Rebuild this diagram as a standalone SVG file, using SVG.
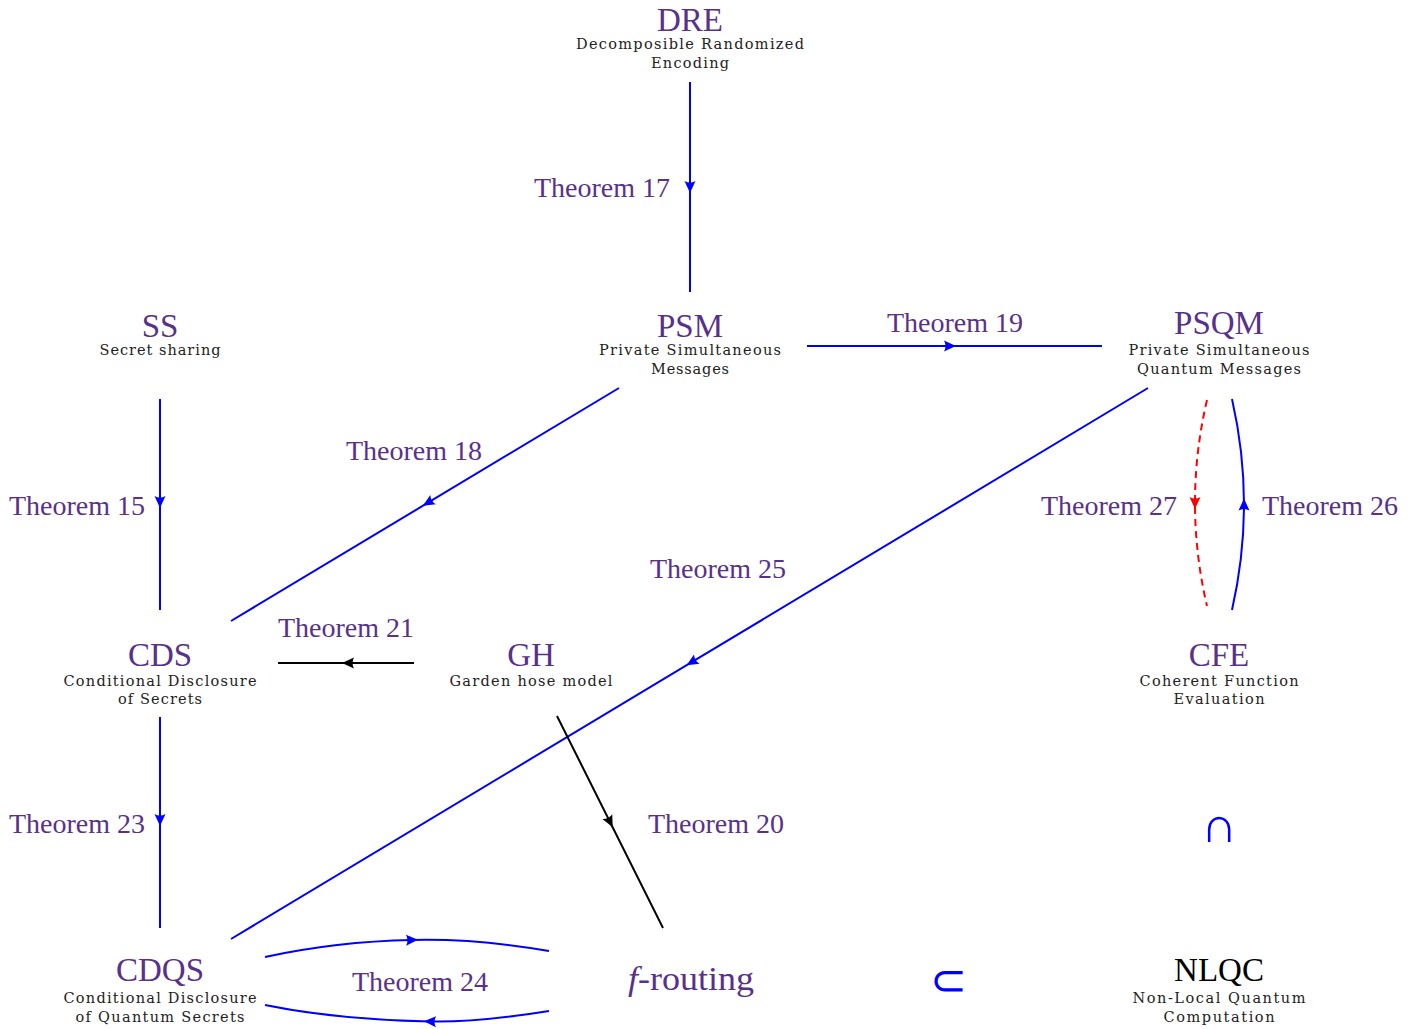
<svg xmlns="http://www.w3.org/2000/svg" width="1419" height="1029" viewBox="0 0 1419 1029">
<defs>
<style>
.t{font-family:"Liberation Serif","DejaVu Serif",serif;font-size:33px;fill:#58318a;text-anchor:middle}
.s{font-family:"DejaVu Serif","Liberation Serif",serif;font-size:14.5px;fill:#222;text-anchor:middle}
.l{font-family:"Liberation Serif","DejaVu Serif",serif;font-size:28px;fill:#58318a}
.b{fill:none;stroke:#0000ff;stroke-width:2}
.k{fill:none;stroke:#000;stroke-width:2}
.r{fill:none;stroke:#ff0000;stroke-width:2;stroke-dasharray:7 5}
.sym{font-family:"DejaVu Sans",sans-serif;font-weight:200;font-size:50px;fill:#0000ff;text-anchor:middle}
</style>
<marker id="ab" viewBox="-9 -7 16 14" refX="0" refY="0" markerWidth="16" markerHeight="14" orient="auto" markerUnits="userSpaceOnUse"><path d="M6,0 L-6,-5.5 Q-3,0 -6,5.5 Z" fill="#0000ff"/></marker>
<marker id="ak" viewBox="-9 -7 16 14" refX="0" refY="0" markerWidth="16" markerHeight="14" orient="auto" markerUnits="userSpaceOnUse"><path d="M6,0 L-6,-5.5 Q-3,0 -6,5.5 Z" fill="#000"/></marker>
<marker id="ar" viewBox="-9 -7 16 14" refX="0" refY="0" markerWidth="16" markerHeight="14" orient="auto" markerUnits="userSpaceOnUse"><path d="M6,0 L-6,-5.5 Q-3,0 -6,5.5 Z" fill="#ff0000"/></marker>
</defs>
<rect width="1419" height="1029" fill="#fff"/>
<g id="connectors">
<path class="b" marker-mid="url(#ab)" d="M690,82 L690,187 L690,292"/>
<path class="b" marker-mid="url(#ab)" d="M807,346 L950,346 L1102,346"/>
<path class="b" marker-mid="url(#ab)" d="M160,399 L160,502 L160,610"/>
<path class="b" marker-mid="url(#ab)" d="M619,388 L428,502.7 L231,621"/>
<path class="b" marker-mid="url(#ab)" d="M1148,388 L691.7,662.2 L231,939"/>
<path class="r" marker-mid="url(#ar)" d="M1207,400 Q1195,451.5 1195,503 Q1195,554.5 1207,606"/>
<path class="b" marker-mid="url(#ab)" d="M1232,610 Q1244,557.25 1244,504.5 Q1244,451.75 1232,399"/>
<path class="k" marker-mid="url(#ak)" d="M414,663 L348,663 L278,663"/>
<path class="k" marker-mid="url(#ak)" d="M557,716 L610,822 L663,928"/>
<path class="b" marker-mid="url(#ab)" d="M160,717 L160,820 L160,928"/>
<path class="b" marker-mid="url(#ab)" d="M265,957 Q336,941.5 412,940 Q478,938.5 549,951"/>
<path class="b" marker-mid="url(#ab)" d="M549,1011 Q478,1022.5 430,1021.5 Q336,1019.5 265,1005"/>
<text class="l" x="670" y="197" text-anchor="end">Theorem 17</text>
<text class="l" x="955" y="332" text-anchor="middle">Theorem 19</text>
<text class="l" x="145" y="515" text-anchor="end">Theorem 15</text>
<text class="l" x="482" y="460" text-anchor="end">Theorem 18</text>
<text class="l" x="650" y="578">Theorem 25</text>
<text class="l" x="1177" y="515" text-anchor="end">Theorem 27</text>
<text class="l" x="1262" y="515">Theorem 26</text>
<text class="l" x="346" y="637" text-anchor="middle">Theorem 21</text>
<text class="l" x="648" y="833">Theorem 20</text>
<text class="l" x="145" y="833" text-anchor="end">Theorem 23</text>
<text class="l" x="420" y="991" text-anchor="middle">Theorem 24</text>
<text class="sym" x="1219" y="842">∩</text>
<text class="sym" x="948" y="995" style="font-size:44px">⊂</text>
</g>
<g id="DRE">
<text class="t" x="690" y="31">DRE</text>
<text class="s" x="690" y="49" textLength="228" lengthAdjust="spacing">Decomposible Randomized</text>
<text class="s" x="690" y="68" textLength="78" lengthAdjust="spacing">Encoding</text>
</g>
<g id="SS">
<text class="t" x="160" y="337">SS</text>
<text class="s" x="160" y="355" textLength="121" lengthAdjust="spacing">Secret sharing</text>
</g>
<g id="PSM">
<text class="t" x="690" y="337">PSM</text>
<text class="s" x="690" y="355" textLength="182" lengthAdjust="spacing">Private Simultaneous</text>
<text class="s" x="690" y="374" textLength="78" lengthAdjust="spacing">Messages</text>
</g>
<g id="PSQM">
<text class="t" x="1219" y="334">PSQM</text>
<text class="s" x="1219" y="355" textLength="181" lengthAdjust="spacing">Private Simultaneous</text>
<text class="s" x="1219" y="374" textLength="164" lengthAdjust="spacing">Quantum Messages</text>
</g>
<g id="CDS">
<text class="t" x="160" y="666">CDS</text>
<text class="s" x="160" y="686" textLength="193" lengthAdjust="spacing">Conditional Disclosure</text>
<text class="s" x="160" y="704" textLength="84" lengthAdjust="spacing">of Secrets</text>
</g>
<g id="GH">
<text class="t" x="531" y="666">GH</text>
<text class="s" x="531" y="686" textLength="163" lengthAdjust="spacing">Garden hose model</text>
</g>
<g id="CFE">
<text class="t" x="1219" y="666">CFE</text>
<text class="s" x="1219" y="686" textLength="159" lengthAdjust="spacing">Coherent Function</text>
<text class="s" x="1219" y="704" textLength="91" lengthAdjust="spacing">Evaluation</text>
</g>
<g id="CDQS">
<text class="t" x="160" y="981">CDQS</text>
<text class="s" x="160" y="1003" textLength="193" lengthAdjust="spacing">Conditional Disclosure</text>
<text class="s" x="160" y="1022" textLength="169" lengthAdjust="spacing">of Quantum Secrets</text>
</g>
<g id="f-routing">
<text class="t" x="691" y="990" textLength="126" lengthAdjust="spacingAndGlyphs"><tspan font-style="italic">f</tspan>-routing</text>
</g>
<g id="NLQC">
<text class="t" x="1219" y="981" style="fill:#000">NLQC</text>
<text class="s" x="1219" y="1003" textLength="173" lengthAdjust="spacing">Non-Local Quantum</text>
<text class="s" x="1219" y="1022" textLength="111" lengthAdjust="spacing">Computation</text>
</g>
</svg>
